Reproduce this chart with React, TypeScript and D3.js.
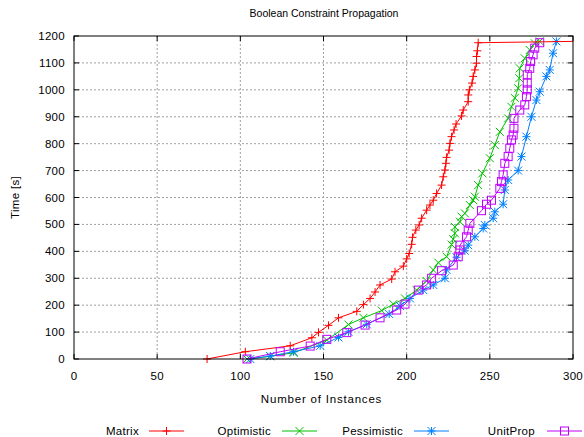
import React from 'react';
import * as d3 from 'd3';

// cactus plot values: x = instances solved, y = time [s]
const matrixX = [80, 103, 130, 143, 147, 153, 159, 170, 174, 178, 181, 184, 191, 193, 198, 200, 201.5, 203, 203.5, 205.5, 207.5, 209, 212, 214, 216, 218, 221, 222, 223, 223.6, 224, 225.5, 226, 227, 228.5, 229.7, 233, 234, 237, 237, 237.7, 239.3, 240, 241, 242, 242, 242.5, 243];
const matrixY = [0, 27, 49, 79, 99, 125, 153, 177, 202, 225, 249, 275, 297, 324, 345, 372, 392, 426, 452, 479, 498, 523, 553, 572, 590, 615, 646, 677, 702, 727, 749, 776, 801, 826, 851, 873, 903, 925, 956, 981, 1000, 1025, 1050, 1074, 1099, 1124, 1145, 1175];

const optimisticX = [104, 118, 132, 152, 165, 174, 185, 192, 199, 206, 212, 216, 219, 224, 227, 228, 229, 229, 232, 233, 235, 238, 240, 241, 243, 245.5, 250, 253, 256, 261, 263, 265, 267, 267.7, 268, 271, 274, 277, 280];
const optimisticY = [0, 10, 23, 70, 128, 153, 180, 204, 225, 256, 290, 331, 358, 380, 425, 445, 467, 491, 510, 529, 541, 572, 590, 603, 646, 690, 746, 795, 844, 894, 937, 970, 1006, 1043, 1080, 1117, 1148, 1173, 1180];

const pessimisticX = [106, 118, 132, 148, 159, 165, 176, 189.5, 196, 202, 210, 216, 223, 224, 230, 235, 237, 241, 246, 247, 252, 253, 258, 259, 261, 267, 269, 272, 275, 278, 280, 284, 286, 288, 290];
const pessimisticY = [0, 11, 27, 49, 80, 101, 129, 167, 197, 225, 256, 275, 300, 331, 378, 402, 423, 454, 485, 498, 523, 547, 575, 628, 665, 700, 752, 826, 900, 962, 993, 1050, 1074, 1136, 1180];

const unitPropX = [104, 124, 142, 152, 164, 175, 184, 194, 199, 207, 212, 215, 221, 228, 231, 232, 232, 236, 237, 238, 245, 248, 251, 256, 257, 258, 259, 261, 262, 263, 264, 264.5, 264.5, 268, 271, 272, 272.5, 272.5, 272.5, 274, 274.5, 276, 277, 280];
const unitPropY = [0, 27, 48, 73, 98, 126, 153, 182, 204, 256, 275, 300, 328, 349, 380, 405, 423, 454, 479, 504, 551, 575, 590, 634, 659, 684, 727, 752, 783, 814, 832, 857, 894, 925, 944, 975, 1000, 1025, 1056, 1080, 1105, 1130, 1155, 1175];

const timeoutX = 300;
const timeoutY = 1180;

const xTicks = [0, 50, 100, 150, 200, 250, 300];
const yTicks = [0, 100, 200, 300, 400, 500, 600, 700, 800, 900, 1000, 1100, 1200];

const seriesNames = ['Matrix', 'Optimistic', 'Pessimistic', 'UnitProp'];
const seriesColors = ['#ff0000', '#00c000', '#0080ff', '#c000ff'];
const seriesMarkers = ['plus', 'cross', 'star', 'square'];

const font = '"Liberation Sans", Arial, sans-serif';

function Marker({ kind, x, y, color }: { kind: string; x: number; y: number; color: string }) {
  const s = 4;
  if (kind === 'plus') {
    return <path d={`M${x - s},${y}H${x + s}M${x},${y - s}V${y + s}`} stroke={color} fill="none" />;
  }
  if (kind === 'cross') {
    return <path d={`M${x - s},${y - s}L${x + s},${y + s}M${x - s},${y + s}L${x + s},${y - s}`} stroke={color} fill="none" />;
  }
  if (kind === 'star') {
    return <path d={`M${x - s},${y}H${x + s}M${x},${y - s}V${y + s}M${x - s},${y - s}L${x + s},${y + s}M${x - s},${y + s}L${x + s},${y - s}`} stroke={color} fill="none" />;
  }
  return <rect x={x - s} y={y - s} width={2 * s} height={2 * s} stroke={color} fill="none" />;
}

export default function App() {
  const width = 584;
  const height = 437;
  const left = 74, right = 573, top = 36, bottom = 359;

  const x = d3.scaleLinear().domain([0, 300]).range([left, right]);
  const y = d3.scaleLinear().domain([0, 1200]).range([bottom, top]);

  const series = [
    { xs: matrixX, ys: matrixY },
    { xs: optimisticX, ys: optimisticY },
    { xs: pessimisticX, ys: pessimisticY },
    { xs: unitPropX, ys: unitPropY },
  ];

  const line = d3.line<[number, number]>()
    .x(d => x(d[0]))
    .y(d => y(d[1]));

  const legendPos = [
    { text: 139, x0: 149, x1: 184 },
    { text: 271, x0: 282, x1: 317 },
    { text: 403, x0: 414, x1: 449 },
    { text: 535, x0: 547, x1: 582 },
  ];

  return (
    <svg width={width} height={height} style={{ position: 'absolute', left: 0, top: 0, background: '#fff' }}
      fontFamily={font} fontSize={11.5} letterSpacing={0.3}>
      <text x={324} y={17} textAnchor="middle" fill="#000" fontSize={10.5} letterSpacing={0}>Boolean Constraint Propagation</text>

      {/* grid */}
      {yTicks.filter(t => t > 0 && t < 1200).map(t => (
        <line key={'gy' + t} x1={left} x2={right} y1={y(t)} y2={y(t)} stroke="#a0a0a0" strokeDasharray="2,2" />
      ))}
      {xTicks.filter(t => t > 0 && t < 300).map(t => (
        <line key={'gx' + t} x1={x(t)} x2={x(t)} y1={top} y2={bottom} stroke="#a0a0a0" strokeDasharray="2,2" />
      ))}

      {/* ticks */}
      {yTicks.map(t => (
        <g key={'ty' + t}>
          <line x1={left} x2={left + 5} y1={y(t)} y2={y(t)} stroke="#000" />
          <line x1={right - 5} x2={right} y1={y(t)} y2={y(t)} stroke="#000" />
          <text x={65} y={y(t)} dy="0.35em" textAnchor="end">{t}</text>
        </g>
      ))}
      {xTicks.map(t => (
        <g key={'tx' + t}>
          <line x1={x(t)} x2={x(t)} y1={bottom} y2={bottom - 5} stroke="#000" />
          <line x1={x(t)} x2={x(t)} y1={top} y2={top + 5} stroke="#000" />
          <text x={x(t)} y={376} dy="0.35em" textAnchor="middle">{t}</text>
        </g>
      ))}

      <text transform={`translate(15,${(top + bottom) / 2}) rotate(-90)`} textAnchor="middle" dy="0.35em">Time [s]</text>
      <text x={(left + right) / 2 - 2} y={399} textAnchor="middle" dy="0.35em" letterSpacing={0.8}>Number of Instances</text>

      {/* series */}
      {series.map((s, i) => {
        const pts = s.xs.map((v, j) => [v, s.ys[j]] as [number, number]);
        return (
          <g key={seriesNames[i]}>
            <path d={line(pts) || ''} stroke={seriesColors[i]} fill="none" />
            {pts.map((p, j) => (
              <Marker key={j} kind={seriesMarkers[i]} x={x(p[0])} y={y(p[1])} color={seriesColors[i]} />
            ))}
          </g>
        );
      })}
      <path d={line([[matrixX[matrixX.length - 1], matrixY[matrixY.length - 1]], [timeoutX, timeoutY]]) || ''}
        stroke={seriesColors[0]} fill="none" />

      <rect x={left} y={top} width={right - left} height={bottom - top} fill="none" stroke="#000" />

      {/* legend */}
      {seriesNames.map((n, i) => (
        <g key={'lg' + n}>
          <text x={legendPos[i].text} y={431} dy="0.35em" textAnchor="end">{n}</text>
          <line x1={legendPos[i].x0} x2={legendPos[i].x1} y1={431} y2={431} stroke={seriesColors[i]} />
          <Marker kind={seriesMarkers[i]} x={(legendPos[i].x0 + legendPos[i].x1) / 2} y={431} color={seriesColors[i]} />
        </g>
      ))}
    </svg>
  );
}
